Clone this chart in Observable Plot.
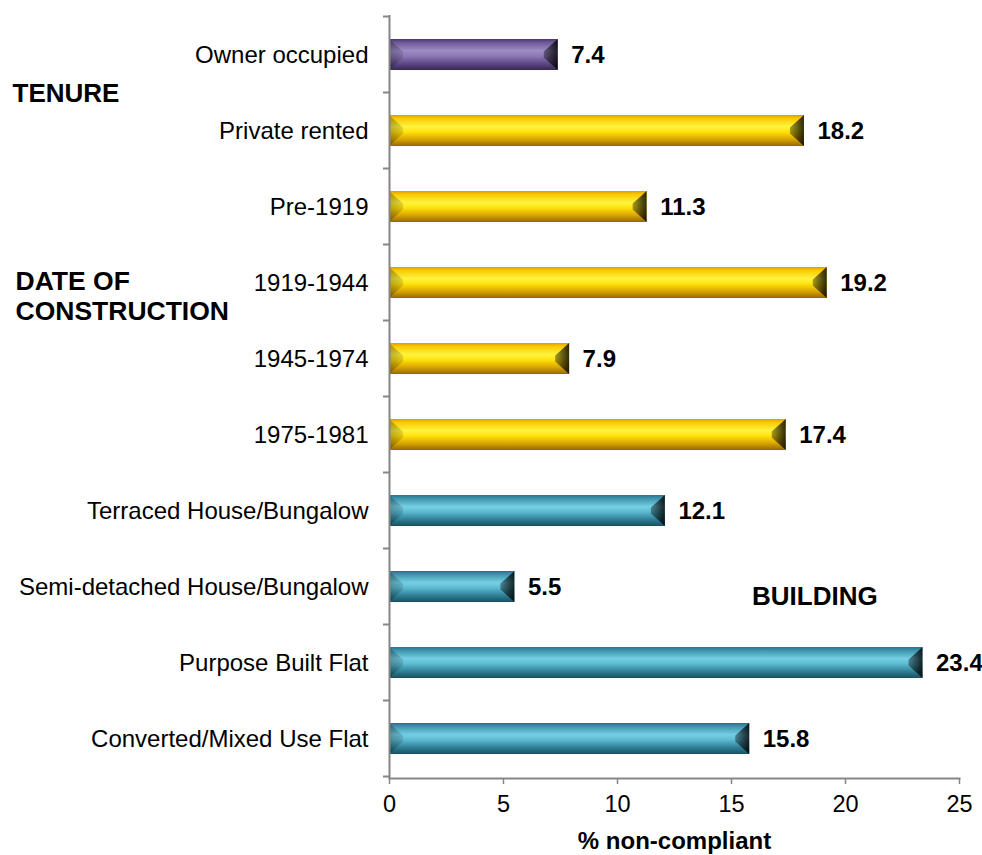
<!DOCTYPE html>
<html>
<head>
<meta charset="utf-8">
<script src="https://cdn.jsdelivr.net/npm/d3@7"></script>
<script src="https://cdn.jsdelivr.net/npm/@observablehq/plot@0.6"></script>
<style>
  html, body { margin: 0; padding: 0; background: #fff; }
  #chart svg { display: block; }
</style>
</head>
<body>
<div id="chart"></div>
<script>
// ---- data ----
const categories = [
  "Owner occupied",
  "Private rented",
  "Pre-1919",
  "1919-1944",
  "1945-1974",
  "1975-1981",
  "Terraced House/Bungalow",
  "Semi-detached House/Bungalow",
  "Purpose Built Flat",
  "Converted/Mixed Use Flat"
];
const values = [7.4, 18.2, 11.3, 19.2, 7.9, 17.4, 12.1, 5.5, 23.4, 15.8];
const barStyle = ["purple", "gold", "gold", "gold", "gold", "gold", "teal", "teal", "teal", "teal"];
const xTicks = [0, 5, 10, 15, 20, 25];
const xLabel = "% non-compliant";
const groupLabels = ["TENURE", "DATE OF\nCONSTRUCTION", "BUILDING"];

const data = categories.map((c, i) => ({category: c, value: values[i], style: barStyle[i]}));

// ---- styles ----
const axisColor = "#868686";
const font = "Liberation Sans, Arial, Helvetica, sans-serif";
const gradients = {
  purple: [[0, "#4a376f"], [0.1, "#6a5695"], [0.38, "#9d8cc5"], [0.55, "#8b78b5"], [0.8, "#5c4784"], [1, "#372853"]],
  gold:   [[0, "#e09a00"], [0.1, "#f8c800"], [0.38, "#fff43e"], [0.55, "#ffe10a"], [0.8, "#d6a000"], [1, "#906a00"]],
  teal:   [[0, "#25728a"], [0.1, "#3b93ab"], [0.38, "#76cfe4"], [0.55, "#5bb9d0"], [0.8, "#2c7d93"], [1, "#1a4f60"]]
};

function bevelRender(index, scales, vals, dimensions, context, next) {
  const g = next(index, scales, vals, dimensions, context);
  const sel = d3.select(g);
  const defs = sel.insert("defs", ":first-child");
  for (const [key, stops] of Object.entries(gradients)) {
    const lg = defs.append("linearGradient").attr("id", "grad-" + key)
      .attr("x1", 0).attr("y1", 0).attr("x2", 0).attr("y2", 1);
    for (const [o, c] of stops) lg.append("stop").attr("offset", o).attr("stop-color", c);
  }
  const rg = defs.append("linearGradient").attr("id", "grad-right")
    .attr("x1", 0).attr("y1", 0).attr("x2", 1).attr("y2", 0);
  rg.append("stop").attr("offset", 0).attr("stop-color", "#000").attr("stop-opacity", 0.35);
  rg.append("stop").attr("offset", 1).attr("stop-color", "#000").attr("stop-opacity", 0.82);
  const lgl = defs.append("linearGradient").attr("id", "grad-left")
    .attr("x1", 0).attr("y1", 0).attr("x2", 1).attr("y2", 0);
  lgl.append("stop").attr("offset", 0).attr("stop-color", "#000").attr("stop-opacity", 0.28);
  lgl.append("stop").attr("offset", 1).attr("stop-color", "#000").attr("stop-opacity", 0.12);

  const bw = scales.y.bandwidth();
  const b = 14, v = bw / 2 - 3;
  const faces = sel.append("g");
  for (const i of index) {
    const x1 = Math.min(vals.x1[i], vals.x2[i]), x2 = Math.max(vals.x1[i], vals.x2[i]);
    const t = vals.y[i], bt = t + bw;
    faces.append("polygon")
      .attr("points", [[x1, t], [x1 + b, t + v], [x1 + b, bt - v], [x1, bt]].join(" "))
      .attr("fill", "url(#grad-left)");
    faces.append("polygon")
      .attr("points", [[x2, t], [x2 - b, t + v], [x2 - b, bt - v], [x2, bt]].join(" "))
      .attr("fill", "url(#grad-right)");
  }
  return g;
}

function boundaryTicks(index, scales, vals, dimensions) {
  const y = scales.y;
  const off = (y.step() - y.bandwidth()) / 2;
  const ys = categories.map(c => y(c) - off);
  ys.push(y(categories[categories.length - 1]) + y.bandwidth() + off);
  const g = d3.create("svg:g").attr("stroke", axisColor).attr("stroke-width", 2);
  g.selectAll("line").data(ys).join("line")
    .attr("x1", dimensions.marginLeft - 6).attr("x2", dimensions.marginLeft)
    .attr("y1", d => d).attr("y2", d => d);
  return g.node();
}

const chart = Plot.plot({
  width: 982,
  height: 855,
  marginLeft: 389,
  marginRight: 23,
  marginTop: 15,
  marginBottom: 77,
  style: {fontFamily: font, color: "#000", background: "#fff", overflow: "visible"},
  x: {domain: [0, 25]},
  y: {domain: categories, paddingInner: 0.59, paddingOuter: 0.295},
  color: {type: "identity"},
  marks: [
    Plot.barX(data, {
      x: "value",
      y: "category",
      fill: d => `url(#grad-${d.style})`,
      render: bevelRender
    }),
    Plot.ruleX([0], {stroke: axisColor, strokeWidth: 2}),
    Plot.frame({anchor: "bottom", stroke: axisColor, strokeWidth: 2}),
    boundaryTicks,
    Plot.axisX({
      ticks: xTicks, tickSize: 6, tickPadding: 11, stroke: axisColor, strokeWidth: 1.5,
      fontSize: 23.5, fill: "#000", label: null, tickFormat: d => String(d)
    }),
    Plot.axisY({tickSize: 0, tickPadding: 21, fontSize: 24, fill: "#000", label: null}),
    Plot.text(data, {
      x: "value", y: "category", text: d => d.value.toFixed(1),
      dx: 13, textAnchor: "start", fontWeight: "bold", fontSize: 24, fill: "#000"
    }),
    Plot.text([xLabel], {
      frameAnchor: "bottom", dy: 70, fontWeight: "bold", fontSize: 24, fill: "#000"
    }),
    Plot.text([groupLabels[0]], {
      y: [categories[1]], frameAnchor: "left", dx: -377, dy: -37,
      textAnchor: "start", fontWeight: "bold", fontSize: 26, fill: "#000"
    }),
    Plot.text([groupLabels[1]], {
      y: [categories[3]], frameAnchor: "left", dx: -374, dy: 12, lineHeight: 1.13,
      textAnchor: "start", fontWeight: "bold", fontSize: 26.5, fill: "#000"
    }),
    Plot.text([groupLabels[2]], {
      y: [categories[7]], x: [15.9], dy: 10,
      textAnchor: "start", fontWeight: "bold", fontSize: 26, fill: "#000"
    })
  ]
});

document.getElementById("chart").appendChild(chart);
</script>
</body>
</html>
